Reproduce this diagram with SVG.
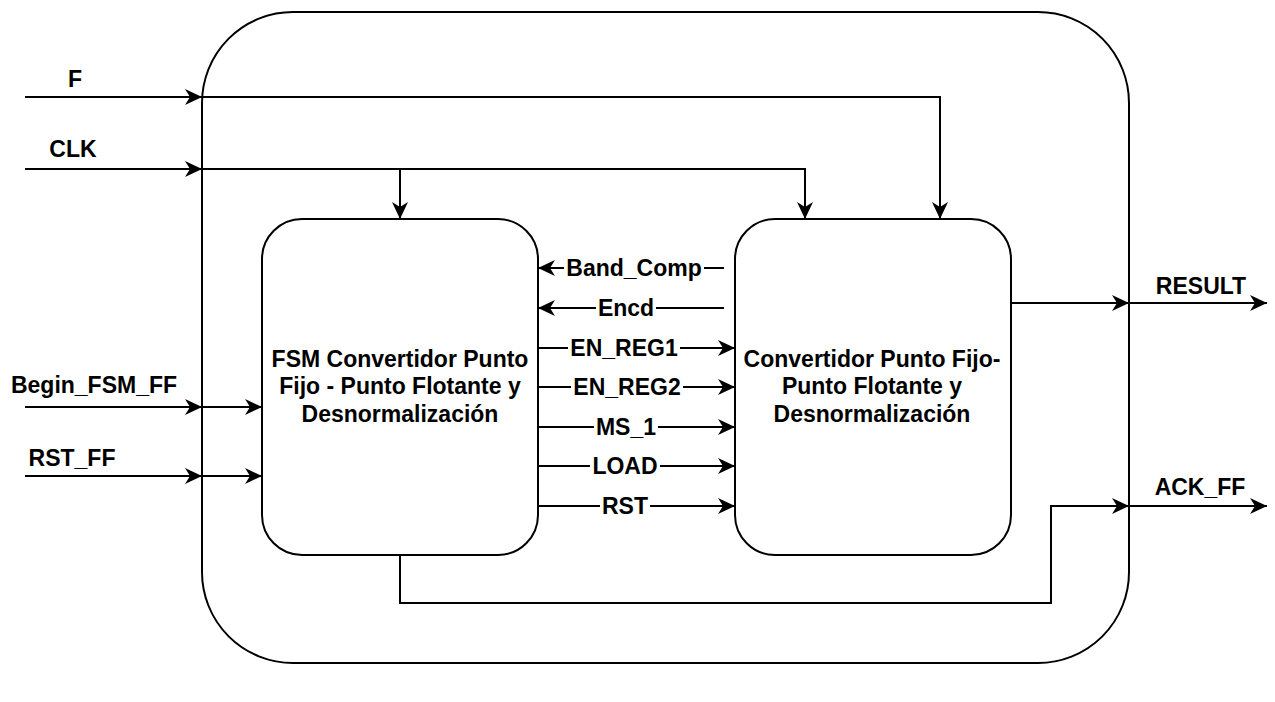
<svg xmlns="http://www.w3.org/2000/svg" width="1275" height="702" viewBox="0 0 1275 702">
<style>
.box{fill:#fff;stroke:#000;stroke-width:2}
.ln{fill:none;stroke:#000;stroke-width:2}
.t{font-family:"Liberation Sans",Arial,Helvetica,sans-serif;font-weight:bold;font-size:23px;fill:#000;text-anchor:middle}
.bg{fill:#fff;stroke:none}
</style>
<defs>
<marker id="ar" markerUnits="userSpaceOnUse" markerWidth="20" markerHeight="20" viewBox="-18 -9 20 18" refX="0" refY="0" orient="auto">
<path d="M0,0 L-17,-8 L-12,0 L-17,8 Z" fill="#000"/>
</marker>
</defs>
<rect width="1275" height="702" fill="#fff"/>
<g id="outer"><rect class="box" x="202" y="12" width="927" height="651" rx="91" ry="91"/></g>
<g id="fsm">
<rect class="box" x="262" y="219" width="276" height="336" rx="40" ry="40"/>
<text class="t" x="400" y="367">FSM Convertidor Punto</text>
<text class="t" x="400" y="394">Fijo - Punto Flotante y</text>
<text class="t" x="400" y="422">Desnormalización</text>
</g>
<g id="conv">
<rect class="box" x="735" y="219" width="276" height="336" rx="40" ry="40"/>
<text class="t" x="872" y="367">Convertidor Punto Fijo-</text>
<text class="t" x="872" y="394">Punto Flotante y</text>
<text class="t" x="872" y="422">Desnormalización</text>
</g>
<g id="connectors">
<path class="ln" d="M25,97 H202" marker-end="url(#ar)"/>
<path class="ln" d="M202,97 H940 V219" marker-end="url(#ar)"/>
<path class="ln" d="M25,169 H202" marker-end="url(#ar)"/>
<path class="ln" d="M202,169 H805 V219" marker-end="url(#ar)"/>
<path class="ln" d="M400,169 V219" marker-end="url(#ar)"/>
<path class="ln" d="M25,407 H202" marker-end="url(#ar)"/>
<path class="ln" d="M202,407 H262" marker-end="url(#ar)"/>
<path class="ln" d="M25,476 H202" marker-end="url(#ar)"/>
<path class="ln" d="M202,476 H262" marker-end="url(#ar)"/>
<path class="ln" d="M724,268 H538" marker-end="url(#ar)"/>
<path class="ln" d="M724,308 H538" marker-end="url(#ar)"/>
<path class="ln" d="M538,348 H735" marker-end="url(#ar)"/>
<path class="ln" d="M538,387 H735" marker-end="url(#ar)"/>
<path class="ln" d="M538,427 H735" marker-end="url(#ar)"/>
<path class="ln" d="M538,466 H735" marker-end="url(#ar)"/>
<path class="ln" d="M538,506 H735" marker-end="url(#ar)"/>
<path class="ln" d="M1011,303 H1129" marker-end="url(#ar)"/>
<path class="ln" d="M1129,303 H1267" marker-end="url(#ar)"/>
<path class="ln" d="M400,555 V603 H1051 V506 H1129" marker-end="url(#ar)"/>
<path class="ln" d="M1129,506 H1267" marker-end="url(#ar)"/>
<rect class="bg" x="564" y="258" width="140" height="22"/>
<text class="t" x="634" y="276">Band_Comp</text>
<rect class="bg" x="596" y="298" width="60" height="22"/>
<text class="t" x="626" y="316">Encd</text>
<rect class="bg" x="568" y="338" width="112" height="22"/>
<text class="t" x="624" y="356">EN_REG1</text>
<rect class="bg" x="571" y="377" width="112" height="22"/>
<text class="t" x="627" y="395">EN_REG2</text>
<rect class="bg" x="594" y="417" width="64" height="22"/>
<text class="t" x="626" y="435">MS_1</text>
<rect class="bg" x="590" y="456" width="70" height="22"/>
<text class="t" x="625" y="474">LOAD</text>
<rect class="bg" x="600" y="496" width="50" height="22"/>
<text class="t" x="625" y="514">RST</text>
</g>
<g id="labels">
<text class="t" x="75" y="87">F</text>
<text class="t" x="73" y="157">CLK</text>
<text class="t" x="94" y="393">Begin_FSM_FF</text>
<text class="t" x="72" y="466">RST_FF</text>
<text class="t" x="1201" y="294">RESULT</text>
<text class="t" x="1200" y="495">ACK_FF</text>
</g>
</svg>
